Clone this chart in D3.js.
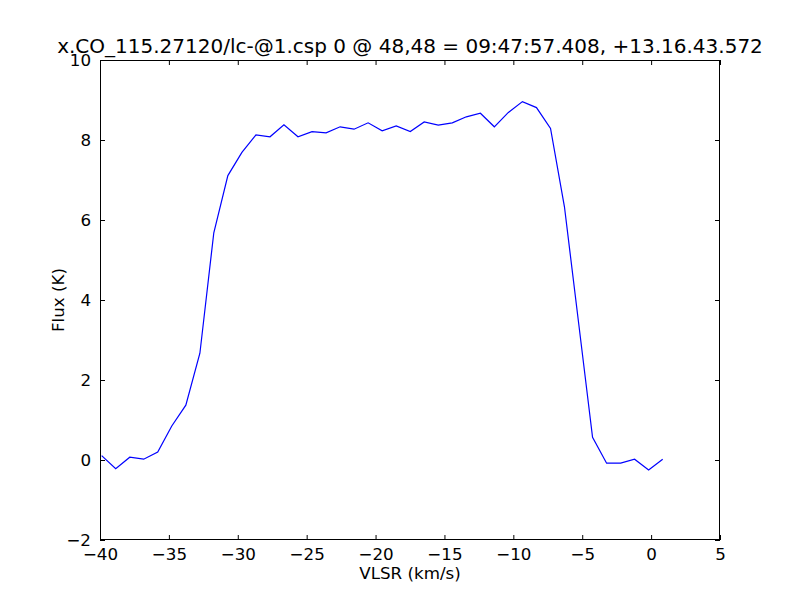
<!DOCTYPE html>
<html>
<head>
<meta charset="utf-8">
<script src="https://cdn.jsdelivr.net/npm/d3@7/dist/d3.min.js"></script>
<style>
  html, body { margin: 0; padding: 0; background: #fff; }
  svg { display: block; }
  text { font-family: "DejaVu Sans", sans-serif; fill: #000; }
</style>
</head>
<body>
<svg id="chart" width="800" height="600"></svg>
<script>
const titleText = "x.CO_115.27120/lc-@1.csp 0 @ 48,48 = 09:47:57.408, +13.16.43.572";
const xLabel = "VLSR (km/s)";
const yLabel = "Flux (K)";
const xTicks = [-40, -35, -30, -25, -20, -15, -10, -5, 0, 5];
const yTicks = [-2, 0, 2, 4, 6, 8, 10];
const velocity = [-39.88, -38.86, -37.84, -36.83, -35.81, -34.79, -33.77, -32.75, -31.74, -30.72,
  -29.70, -28.68, -27.66, -26.65, -25.63, -24.61, -23.59, -22.57, -21.56, -20.54,
  -19.52, -18.50, -17.48, -16.47, -15.45, -14.43, -13.41, -12.39, -11.38, -10.36,
  -9.34, -8.32, -7.30, -6.29, -5.27, -4.25, -3.23, -2.21, -1.20, -0.18, 0.84];
const flux = [0.11, -0.22, 0.07, 0.02, 0.20, 0.85, 1.37, 2.67, 5.68, 7.11,
  7.69, 8.13, 8.08, 8.38, 8.08, 8.21, 8.18, 8.33, 8.27, 8.43,
  8.23, 8.35, 8.21, 8.45, 8.37, 8.43, 8.58, 8.67, 8.33, 8.69,
  8.96, 8.81, 8.29, 6.33, 3.45, 0.57, -0.08, -0.08, 0.02, -0.25, 0.02];

const svg = d3.select("#chart");
const L = 100, R = 720, T = 60, B = 540;
const x = d3.scaleLinear().domain([-40, 5]).range([L, R]);
const y = d3.scaleLinear().domain([-2, 10]).range([B, T]);
const fmt = d => String(d).replace("-", "\u2212");
const tickLen = 5;
const tickFont = "16.7px";

// line
const line = d3.line().x((d, i) => x(velocity[i])).y(d => y(d));
svg.append("path").datum(flux)
  .attr("d", line)
  .attr("fill", "none")
  .attr("stroke", "#0000ff")
  .attr("stroke-width", 1.2);

// axes with inward ticks
function styleAxis(g) {
  g.select(".domain").remove();
  g.selectAll("line").attr("stroke", "#000").attr("stroke-width", 1);
  g.selectAll("text").style("font-family", "DejaVu Sans").style("font-size", tickFont).attr("fill", "#000");
}
svg.append("g").attr("transform", `translate(0,${B})`)
  .call(d3.axisBottom(x).tickValues(xTicks).tickFormat(fmt).tickSizeInner(-tickLen).tickSizeOuter(0).tickPadding(8))
  .call(styleAxis);
svg.append("g").attr("transform", `translate(0,${T})`)
  .call(d3.axisTop(x).tickValues(xTicks).tickFormat("").tickSizeInner(-tickLen).tickSizeOuter(0))
  .call(styleAxis);
svg.append("g").attr("transform", `translate(${L},0)`)
  .call(d3.axisLeft(y).tickValues(yTicks).tickFormat(fmt).tickSizeInner(-tickLen).tickSizeOuter(0).tickPadding(9))
  .call(styleAxis);
svg.append("g").attr("transform", `translate(${R},0)`)
  .call(d3.axisRight(y).tickValues(yTicks).tickFormat("").tickSizeInner(-tickLen).tickSizeOuter(0))
  .call(styleAxis);

// frame
svg.append("rect").attr("x", L + 0.5).attr("y", T + 0.5).attr("width", R - L - 1).attr("height", B - T - 1)
  .attr("fill", "none").attr("stroke", "#000").attr("stroke-width", 1);

// labels
svg.append("text").attr("x", (L + R) / 2).attr("y", 53).attr("text-anchor", "middle")
  .style("font-size", "20px").text(titleText);
svg.append("text").attr("x", (L + R) / 2).attr("y", 579).attr("text-anchor", "middle")
  .style("font-size", tickFont).text(xLabel);
svg.append("text").attr("transform", `translate(64,${(T + B) / 2}) rotate(-90)`).attr("text-anchor", "middle")
  .style("font-size", tickFont).text(yLabel);
</script>
</body>
</html>
